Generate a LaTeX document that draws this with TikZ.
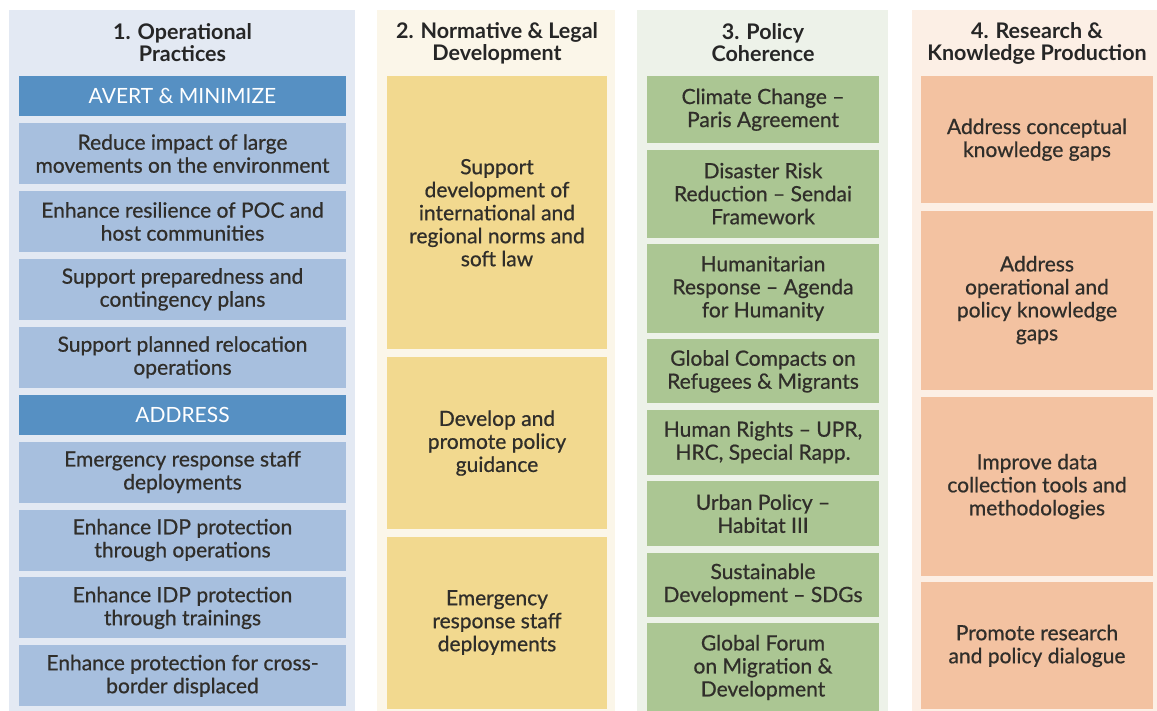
\documentclass[tikz,border=0pt]{standalone}
\usepackage{fontspec}
\setmainfont{Lato}
\newfontfamily\boxfont{Lato}[Ligatures=TeX, FakeBold=0.7]
\usepackage{tikz}
\usetikzlibrary{positioning}
\definecolor{opbg}{RGB}{227, 233, 243}
\definecolor{opdark}{RGB}{86, 144, 195}
\definecolor{oplight}{RGB}{167, 191, 222}
\definecolor{normbg}{RGB}{251, 246, 233}
\definecolor{normyellow}{RGB}{242, 217, 143}
\definecolor{polbg}{RGB}{237, 242, 233}
\definecolor{polgreen}{RGB}{171, 198, 147}
\definecolor{resbg}{RGB}{252, 239, 229}
\definecolor{respeach}{RGB}{243, 194, 161}
\definecolor{txt}{RGB}{48, 46, 42}
\tikzset{
    headnode/.style = {draw=none, fill=none, rectangle, inner sep=0em, align=center,
      text=black!85, font=\bfseries\fontsize{21.5}{22}\selectfont},
    box/.style = {draw=none, rectangle, inner sep=0em, align=center, text=txt,
      font=\boxfont\fontsize{21}{23}\selectfont},
    opbox/.style = {box, fill=oplight, minimum width=327pt, minimum height=61pt},
    optitle/.style = {box, fill=opdark, text=white, minimum width=327pt, minimum height=40pt,
      font=\fontsize{21}{22}\selectfont},
    normbox/.style = {box, fill=normyellow, minimum width=220pt},
    polbox/.style = {box, fill=polgreen, minimum width=232pt},
    resbox/.style = {box, fill=respeach, minimum width=232pt}
}

\begin{document}
\begin{tikzpicture}[x=1pt, y=-1pt]
    \useasboundingbox[fill=white] (0,0) rectangle (1157,711);
    \fill[opbg] (9,10) rectangle (355,711);
    \fill[normbg] (377,10) rectangle (615,711);
    \fill[polbg] (637,10) rectangle (888,711);
    \fill[resbg] (912,10) rectangle (1157,711);

    \node[headnode, name=OpHead] at (182.5,43) {1. Operational\\Practices};
    \node[headnode, name=NormHead] at (497,43) {2. Normative \& Legal\\Development};
    \node[headnode, name=PolHead] at (763,43) {3. Policy\\Coherence};
    \node[headnode, name=ResHead] at (1037,43) {4. Research \&\\Knowledge Production};

    \node[optitle, name=Avert, anchor=north] at (182.5,76) {AVERT \& MINIMIZE};
    \node[opbox, name=Reduce, below=6.5pt of Avert] {Reduce impact of large\\movements on the environment};
    \node[opbox, name=Resilience, below=6.5pt of Reduce] {Enhance resilience of POC and\\host communities};
    \node[opbox, name=Prepare, below=6.5pt of Resilience] {Support preparedness and\\contingency plans};
    \node[opbox, name=Relocate, below=6.5pt of Prepare] {Support planned relocation\\operations};
    \node[optitle, name=Address, below=6.5pt of Relocate] {ADDRESS};
    \node[opbox, name=Staff, below=6.5pt of Address] {Emergency response staff\\deployments};
    \node[opbox, name=IdpOps, below=6.5pt of Staff] {Enhance IDP protection\\through operations};
    \node[opbox, name=IdpTrain, below=6.5pt of IdpOps] {Enhance IDP protection\\through trainings};
    \node[opbox, name=Cross, below=6.5pt of IdpTrain] {Enhance protection for cross-\\border displaced};

    \node[normbox, name=Norms, anchor=north, minimum height=273pt] at (497,76) {Support\\development of\\international and\\regional norms and\\soft law};
    \node[normbox, name=Guidance, below=7.5pt of Norms, minimum height=172pt] {Develop and\\promote policy\\guidance};
    \node[normbox, name=NormStaff, below=7pt of Guidance, minimum height=172pt] {Emergency\\response staff\\deployments};

    \node[polbox, name=Climate, anchor=north, minimum height=67pt] at (763,76) {Climate Change --\\Paris Agreement};
    \node[polbox, name=Sendai, below=6pt of Climate, minimum height=88pt] {Disaster Risk\\Reduction -- Sendai\\Framework};
    \node[polbox, name=Humanity, below=6pt of Sendai, minimum height=89pt] {Humanitarian\\Response -- Agenda\\for Humanity};
    \node[polbox, name=Compacts, below=6pt of Humanity, minimum height=64pt] {Global Compacts on\\Refugees \& Migrants};
    \node[polbox, name=Rights, below=6pt of Compacts, minimum height=65pt] {Human Rights -- UPR,\\HRC, Special Rapp.};
    \node[polbox, name=Urban, below=6pt of Rights, minimum height=65pt] {Urban Policy --\\Habitat III};
    \node[polbox, name=SDG, below=6pt of Urban, minimum height=64pt] {Sustainable\\Development -- SDGs};
    \node[polbox, name=Forum, below=6pt of SDG, minimum height=89pt] {Global Forum\\on Migration \&\\Development};

    \node[resbox, name=Conceptual, anchor=north, minimum height=127pt] at (1037,76) {Address conceptual\\knowledge gaps};
    \node[resbox, name=Operational, below=7pt of Conceptual, minimum height=179pt] {Address\\operational and\\policy knowledge\\gaps};
    \node[resbox, name=DataTools, below=7pt of Operational, minimum height=179pt] {Improve data\\collection tools and\\methodologies};
    \node[resbox, name=Dialogue, below=6pt of DataTools, minimum height=127pt] {Promote research\\and policy dialogue};
\end{tikzpicture}
\end{document}
